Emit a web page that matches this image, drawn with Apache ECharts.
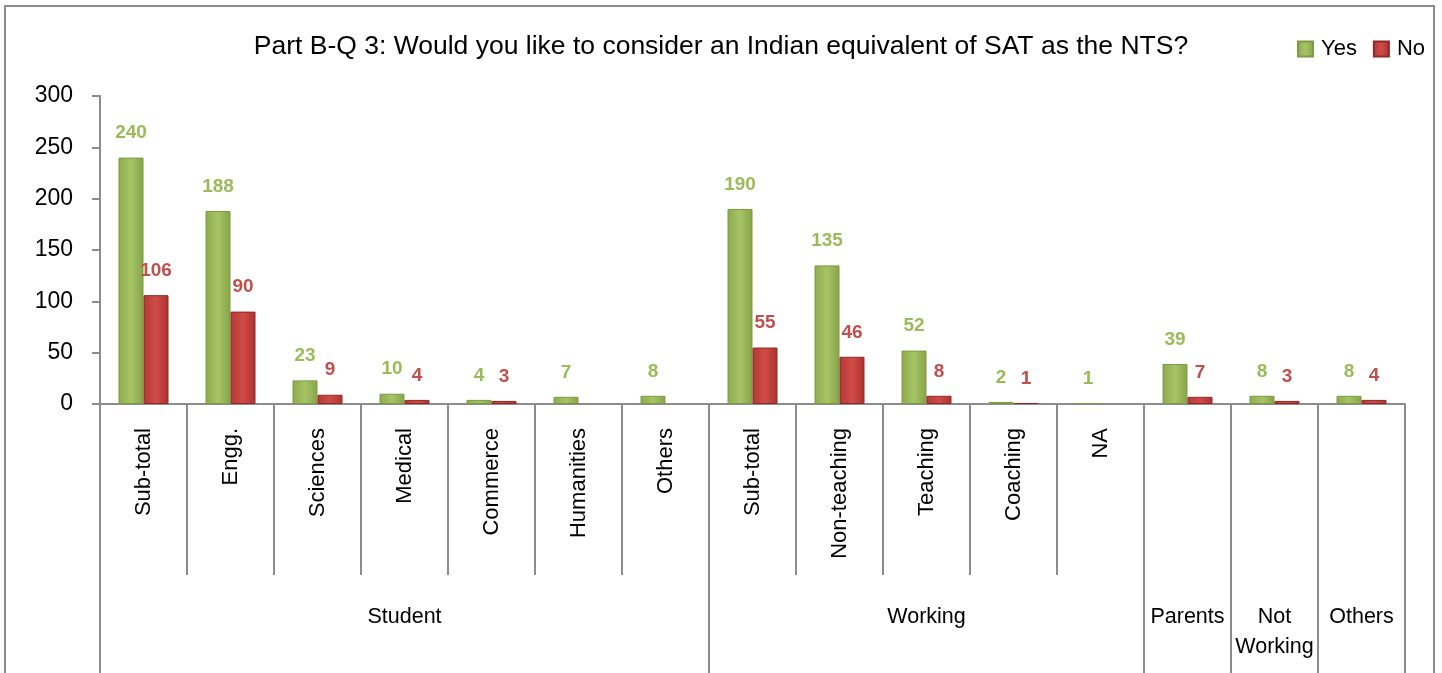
<!DOCTYPE html>
<html>
<head>
<meta charset="utf-8">
<script src="https://cdn.jsdelivr.net/npm/echarts@6/dist/echarts.min.js"></script>
<style>
html,body{margin:0;padding:0;background:#fff;}
#chart{width:1442px;height:673px;}
</style>
</head>
<body>
<div id="chart"></div>
<script>
// ---- data ----
const categories = ['Sub-total','Engg.','Sciences','Medical','Commerce','Humanities','Others',
                    'Sub-total','Non-teaching','Teaching','Coaching','NA',
                    '','',''];
const yesValues = [240,188,23,10,4,7,8,190,135,52,2,1,39,8,8];
const noValues  = [106,90,9,4,3,null,null,55,46,8,1,null,7,3,4];
const groupNames = ['Student','Working','Parents','Not\nWorking','Others'];
const groupSpans = [7,5,1,1,1];
const yTicks = [0,50,100,150,200,250,300];
const titleText = 'Part B-Q 3: Would you like to consider an Indian equivalent of SAT as the NTS?';

// group boundaries and centres
const bounds = [0];
const centres = [];
groupSpans.forEach(s => { const b = bounds[bounds.length-1]; centres.push(b + s/2); bounds.push(b + s); });
const total = bounds[bounds.length-1];

const FONT = 'Liberation Sans';
const GRAY = '#8c8c8c';
const GREEN = '#9BBB59';
const RED = '#C0504D';

const chart = echarts.init(document.getElementById('chart'));
chart.setOption({
  animation: false,
  textStyle: {fontFamily: FONT},
  title: {
    text: titleText, left: 'center', top: 28,
    textStyle: {fontFamily: FONT, fontSize: 26.5, fontWeight: 'normal', color: '#000'}
  },
  legend: {
    right: 12, top: 33, itemWidth: 15, itemHeight: 15, itemGap: 16,
    textStyle: {fontFamily: FONT, fontSize: 22, color: '#000', padding: [0,0,0,3]},
    data: [{name:'Yes', icon:'rect'}, {name:'No', icon:'rect'}]
  },
  graphic: [{
    type: 'rect', shape: {x: 5, y: 6, width: 1429, height: 700},
    style: {fill: 'none', stroke: GRAY, lineWidth: 2}, silent: true, z: 100
  }],
  grid: {left: 100, right: 37, top: 96, bottom: 269, containLabel: false},
  xAxis: [{
    type: 'category', data: categories, position: 'bottom',
    axisLine: {show: true, lineStyle: {color: GRAY, width: 2}},
    axisTick: {show: true, interval: 0, length: 171, lineStyle: {color: GRAY, width: 2}},
    axisLabel: {interval: 0, rotate: 90, margin: 24, fontFamily: FONT, fontSize: 22, color: '#000'}
  }, {
    type: 'value', min: 0, max: total, position: 'bottom',
    axisLine: {show: false}, splitLine: {show: false},
    axisTick: {show: true, customValues: bounds, length: 269, lineStyle: {color: GRAY, width: 2}},
    axisLabel: {
      customValues: centres, margin: 198, fontFamily: FONT, fontSize: 21.5, color: '#000', lineHeight: 30,
      formatter: v => { const i = centres.findIndex(c => Math.abs(c - v) < 1e-6); return i >= 0 ? groupNames[i] : ''; }
    }
  }],
  yAxis: {
    type: 'value', min: 0, max: 300, interval: 50,
    axisLine: {show: true, lineStyle: {color: GRAY, width: 2}},
    axisTick: {show: true, length: 8, lineStyle: {color: GRAY, width: 2}},
    splitLine: {show: false},
    axisLabel: {margin: 27, fontFamily: FONT, fontSize: 23, color: '#000',
      formatter: v => yTicks.includes(v) ? String(v) : ''}
  },
  series: [{
    name: 'Yes', type: 'bar', data: yesValues, barWidth: 25, barGap: '0%',
    itemStyle: {
      color: new echarts.graphic.LinearGradient(0,0,1,0,[
        {offset:0, color:'#8DAA4E'},{offset:0.5, color:'#A6C566'},{offset:1, color:'#86A348'}]),
      borderColor: '#7E9A45', borderWidth: 1
    },
    label: {show: true, position: 'top', distance: 15, fontFamily: FONT, fontSize: 19, fontWeight: 'bold', color: GREEN}
  }, {
    name: 'No', type: 'bar', data: noValues, barWidth: 25,
    itemStyle: {
      color: new echarts.graphic.LinearGradient(0,0,1,0,[
        {offset:0, color:'#B23A37'},{offset:0.5, color:'#D24B47'},{offset:1, color:'#A83431'}]),
      borderColor: '#8E2A28', borderWidth: 1
    },
    label: {show: true, position: 'top', distance: 15, fontFamily: FONT, fontSize: 19, fontWeight: 'bold', color: RED}
  }],
  color: [GREEN, RED]
});
</script>
</body>
</html>
